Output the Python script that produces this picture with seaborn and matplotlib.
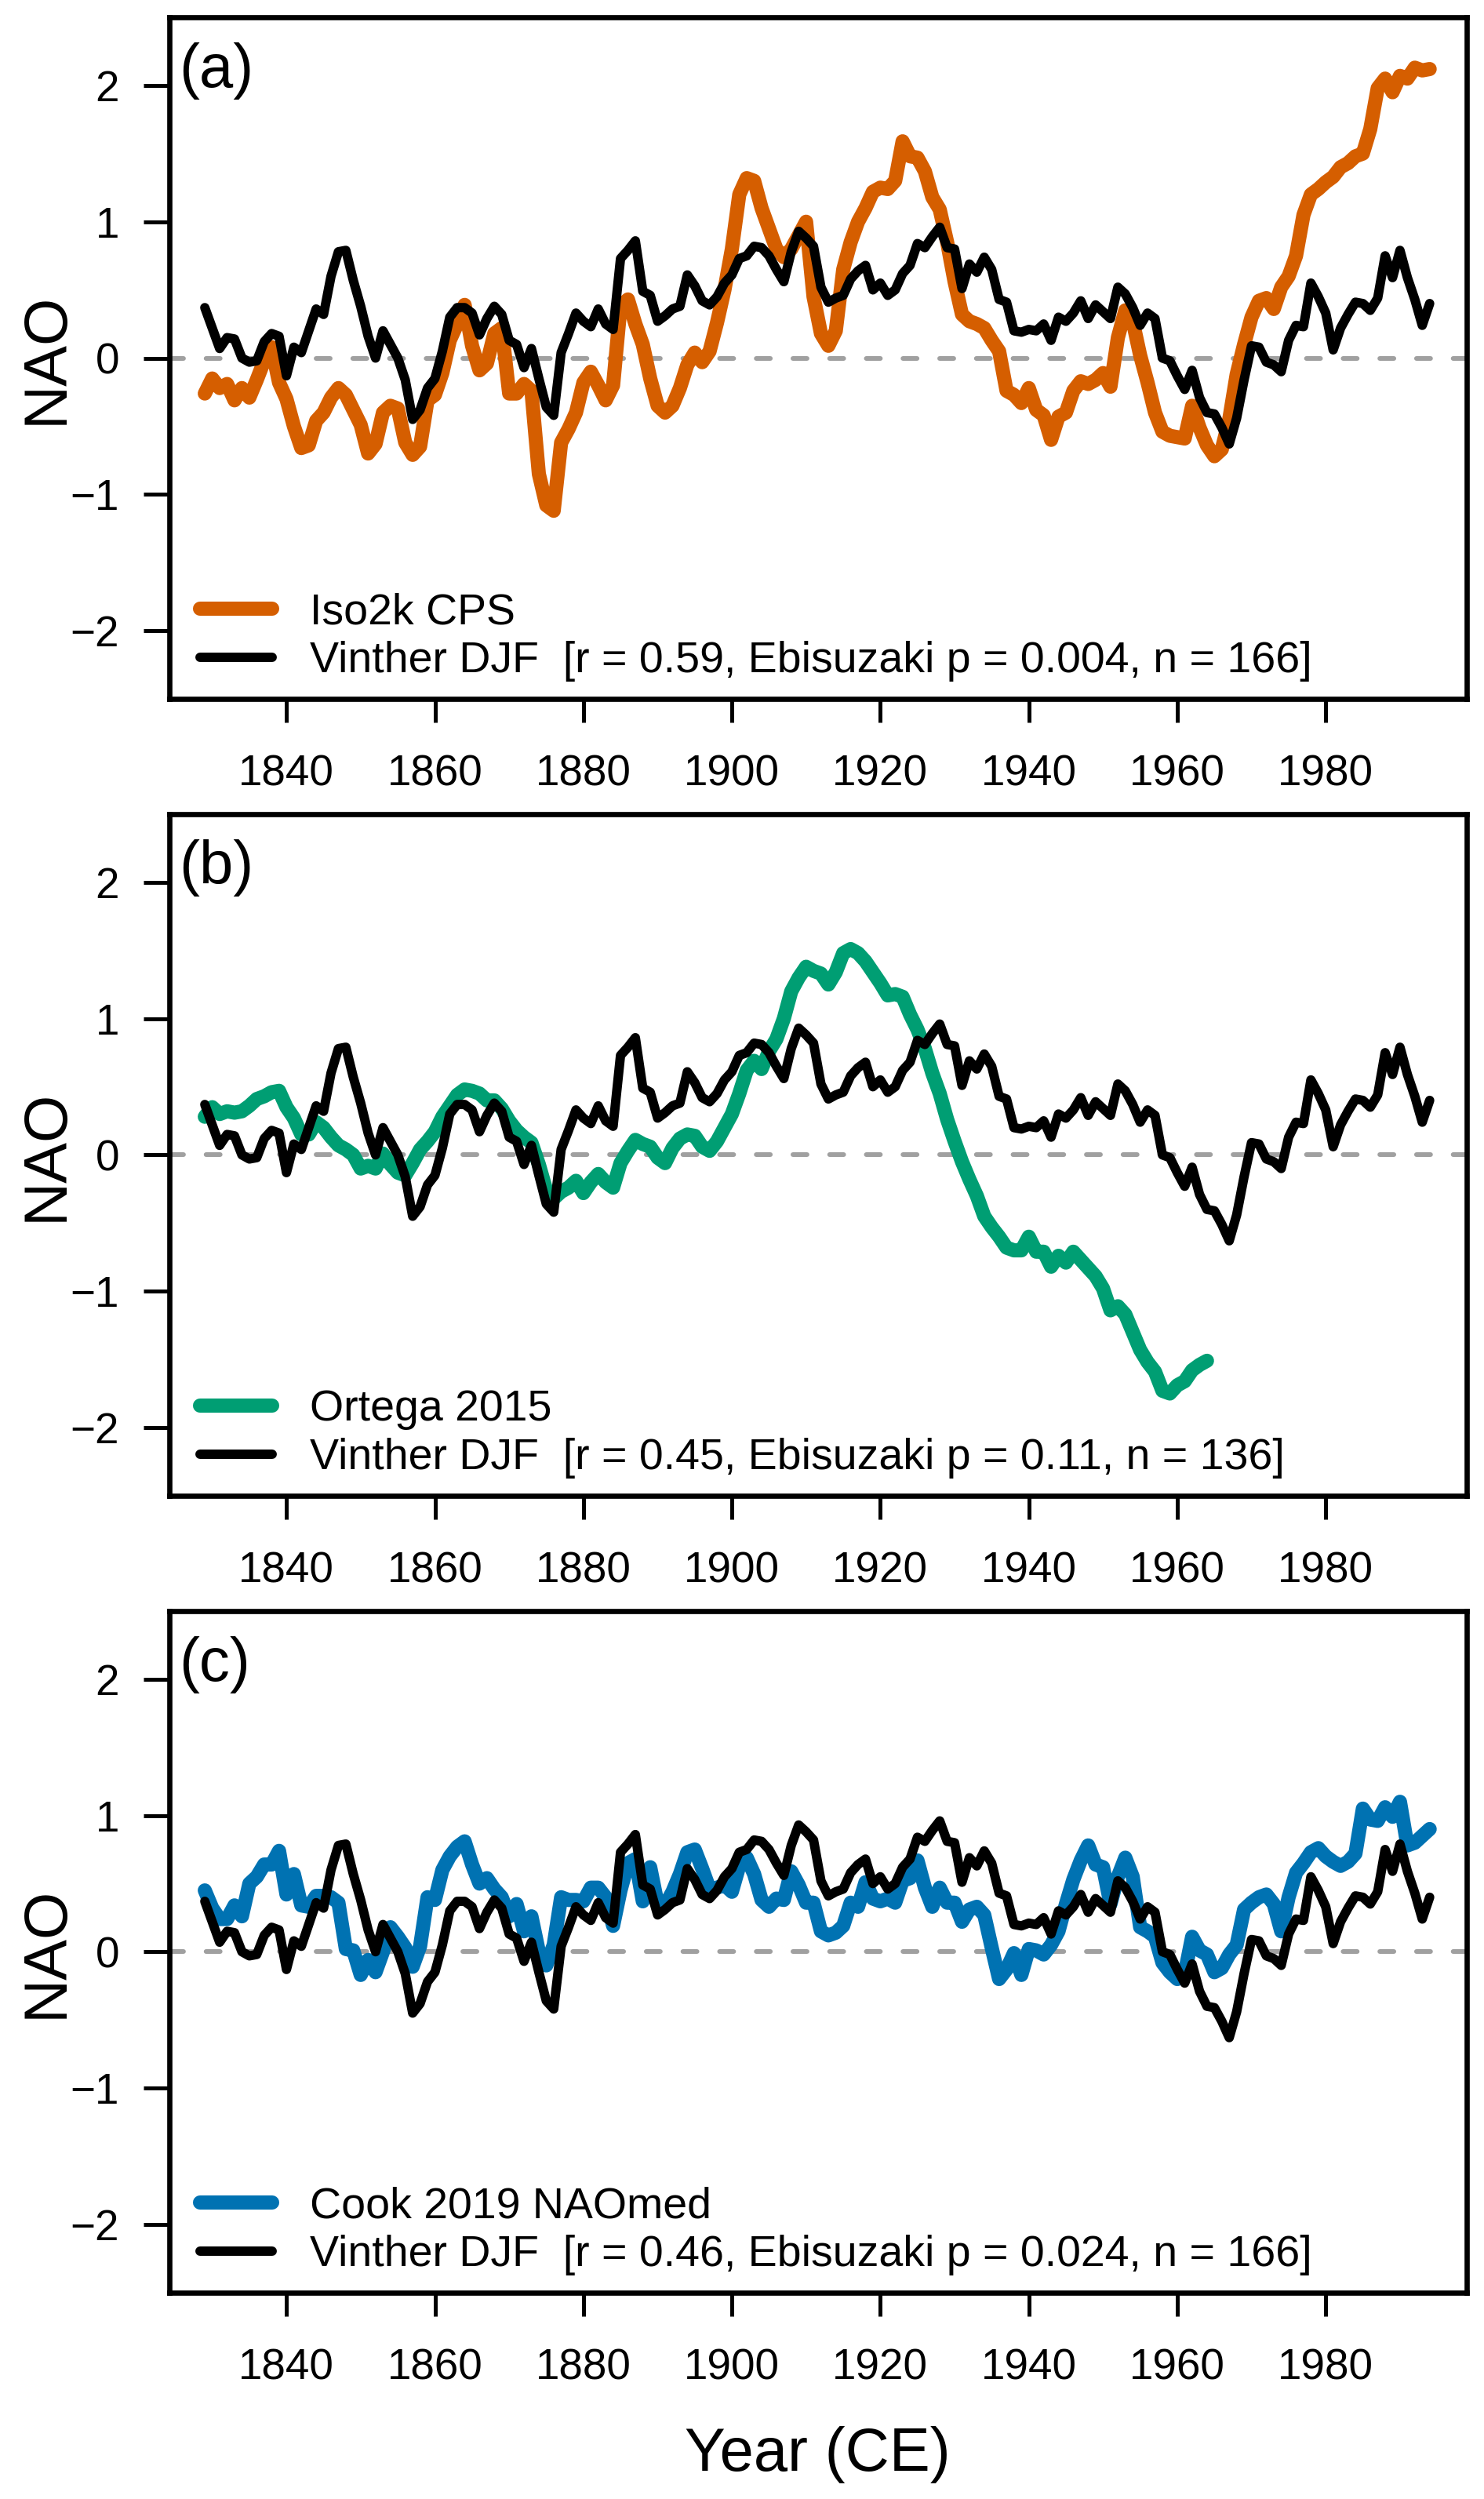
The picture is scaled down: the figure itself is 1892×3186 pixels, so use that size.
import numpy as np
import pandas as pd
import seaborn as sns
import matplotlib.pyplot as plt

# years 1829-1994, shared by all records
years = list(range(1829, 1995))

vinther = [
    0.37, 0.22, 0.07, 0.15, 0.14, 0.00, -0.03, -0.02, 0.12, 0.18,
    0.16, -0.13, 0.08, 0.04, 0.20, 0.36, 0.32, 0.60, 0.78, 0.79,
    0.57, 0.38, 0.16, 0.00, 0.20, 0.10, 0.00, -0.16, -0.45, -0.38,
    -0.22, -0.15, 0.05, 0.30, 0.37, 0.37, 0.33, 0.17, 0.29, 0.38,
    0.32, 0.13, 0.10, -0.07, 0.07, -0.15, -0.36, -0.42, 0.04, 0.18,
    0.33, 0.27, 0.23, 0.36, 0.25, 0.21, 0.73, 0.79, 0.86, 0.49,
    0.46, 0.27, 0.31, 0.36, 0.38, 0.61, 0.53, 0.42, 0.39, 0.45,
    0.55, 0.61, 0.73, 0.75, 0.82, 0.81, 0.75, 0.65, 0.56, 0.78,
    0.93, 0.88, 0.82, 0.52, 0.41, 0.44, 0.46, 0.58, 0.64, 0.68,
    0.50, 0.55, 0.46, 0.50, 0.62, 0.68, 0.84, 0.81, 0.89, 0.96,
    0.81, 0.80, 0.51, 0.69, 0.63, 0.74, 0.65, 0.43, 0.41, 0.20,
    0.19, 0.21, 0.20, 0.25, 0.13, 0.30, 0.27, 0.33, 0.42, 0.29,
    0.39, 0.34, 0.29, 0.52, 0.47, 0.37, 0.24, 0.33, 0.29, 0.00,
    -0.02, -0.13, -0.23, -0.09, -0.29, -0.40, -0.41, -0.51, -0.63, -0.44,
    -0.16, 0.09, 0.08, -0.03, -0.05, -0.10, 0.13, 0.24, 0.23, 0.55,
    0.45, 0.33, 0.06, 0.22, 0.32, 0.41, 0.40, 0.35, 0.44, 0.75,
    0.59, 0.79, 0.59, 0.43, 0.24, 0.40,
]

iso2k = [
    -0.26, -0.15, -0.22, -0.19, -0.31, -0.22, -0.29, -0.16, -0.02, 0.08,
    -0.18, -0.30, -0.50, -0.66, -0.64, -0.46, -0.40, -0.29, -0.22, -0.27,
    -0.38, -0.49, -0.70, -0.63, -0.40, -0.35, -0.37, -0.62, -0.71, -0.65,
    -0.31, -0.27, -0.11, 0.13, 0.25, 0.39, 0.09, -0.09, -0.04, 0.18,
    0.22, -0.26, -0.26, -0.19, -0.24, -0.85, -1.08, -1.12, -0.62, -0.52,
    -0.40, -0.18, -0.10, -0.20, -0.31, -0.20, 0.38, 0.43, 0.25, 0.10,
    -0.15, -0.35, -0.40, -0.35, -0.22, -0.05, 0.04, -0.03, 0.05, 0.26,
    0.50, 0.80, 1.20, 1.32, 1.30, 1.10, 0.95, 0.80, 0.74, 0.80,
    0.90, 1.00, 0.45, 0.18, 0.09, 0.20, 0.65, 0.85, 1.00, 1.10,
    1.22, 1.25, 1.24, 1.30, 1.59, 1.48, 1.47, 1.37, 1.18, 1.09,
    0.85, 0.56, 0.32, 0.27, 0.25, 0.22, 0.13, 0.05, -0.24, -0.27,
    -0.33, -0.22, -0.38, -0.42, -0.60, -0.43, -0.40, -0.24, -0.17, -0.19,
    -0.16, -0.11, -0.21, 0.15, 0.35, 0.27, 0.02, -0.18, -0.40, -0.54,
    -0.57, -0.58, -0.59, -0.35, -0.51, -0.64, -0.72, -0.67, -0.45, -0.12,
    0.10, 0.30, 0.42, 0.44, 0.36, 0.52, 0.60, 0.75, 1.05, 1.20,
    1.24, 1.29, 1.33, 1.40, 1.43, 1.48, 1.50, 1.68, 1.98, 2.05,
    1.95, 2.07, 2.05, 2.13, 2.11, 2.12,
]

# Ortega 2015 stops in 1964
ortega = [
    0.28, 0.35, 0.30, 0.32, 0.31, 0.32, 0.36, 0.41, 0.43, 0.46,
    0.47, 0.35, 0.27, 0.15, 0.15, 0.24, 0.20, 0.13, 0.07, 0.04,
    0.00, -0.10, -0.08, -0.10, 0.01, -0.07, -0.13, -0.15, -0.06, 0.04,
    0.10, 0.17, 0.28, 0.36, 0.44, 0.48, 0.47, 0.45, 0.40, 0.40,
    0.34, 0.25, 0.18, 0.13, 0.09, -0.07, -0.26, -0.32, -0.27, -0.24,
    -0.19, -0.28, -0.20, -0.14, -0.20, -0.24, -0.06, 0.03, 0.11, 0.08,
    0.06, -0.02, -0.06, 0.05, 0.12, 0.15, 0.14, 0.06, 0.03, 0.10,
    0.20, 0.30, 0.45, 0.62, 0.69, 0.63, 0.76, 0.85, 1.00, 1.20,
    1.30, 1.38, 1.35, 1.33, 1.25, 1.34, 1.48, 1.51, 1.48, 1.42,
    1.34, 1.26, 1.17, 1.18, 1.16, 1.03, 0.92, 0.78, 0.60, 0.45,
    0.26, 0.10, -0.05, -0.18, -0.30, -0.45, -0.53, -0.60, -0.68, -0.70,
    -0.70, -0.60, -0.71, -0.71, -0.82, -0.74, -0.79, -0.71, -0.77, -0.83,
    -0.89, -0.98, -1.14, -1.11, -1.17, -1.30, -1.43, -1.52, -1.59, -1.73,
    -1.75, -1.69, -1.66, -1.58, -1.54, -1.51,
]

cook = [
    0.45, 0.32, 0.24, 0.24, 0.34, 0.26, 0.50, 0.55, 0.64, 0.64,
    0.74, 0.42, 0.57, 0.34, 0.33, 0.41, 0.41, 0.40, 0.36, 0.02,
    0.01, -0.17, -0.06, -0.15, 0.00, 0.18, 0.11, 0.03, -0.11, 0.04,
    0.40, 0.38, 0.60, 0.70, 0.77, 0.81, 0.64, 0.50, 0.54, 0.46,
    0.40, 0.26, 0.35, 0.15, 0.26, 0.00, -0.10, 0.05, 0.40, 0.38,
    0.38, 0.37, 0.47, 0.47, 0.40, 0.19, 0.45, 0.65, 0.68, 0.37,
    0.62, 0.35, 0.34, 0.44, 0.57, 0.73, 0.75, 0.61, 0.46, 0.47,
    0.49, 0.44, 0.63, 0.69, 0.57, 0.38, 0.33, 0.39, 0.38, 0.59,
    0.49, 0.36, 0.36, 0.15, 0.12, 0.14, 0.19, 0.36, 0.33, 0.51,
    0.39, 0.37, 0.39, 0.36, 0.52, 0.54, 0.67, 0.47, 0.33, 0.47,
    0.36, 0.36, 0.22, 0.31, 0.33, 0.27, 0.03, -0.20, -0.13, -0.01,
    -0.17, 0.02, 0.01, -0.02, 0.05, 0.15, 0.35, 0.53, 0.67, 0.78,
    0.64, 0.62, 0.35, 0.55, 0.69, 0.55, 0.18, 0.15, 0.11, -0.08,
    -0.15, -0.20, -0.16, 0.11, 0.01, -0.02, -0.15, -0.12, -0.02, 0.05,
    0.31, 0.36, 0.40, 0.42, 0.35, 0.15, 0.40, 0.58, 0.65, 0.73,
    0.76, 0.70, 0.66, 0.63, 0.66, 0.72, 1.05, 0.97, 0.96, 1.06,
    0.99, 1.10, 0.78, 0.80, 0.85, 0.90,
]

panel_tags = ['(a)', '(b)', '(c)']
proxy_names = ['Iso2k CPS', 'Ortega 2015', 'Cook 2019 NAOmed']
proxy_colors = ['#D55E00', '#009E73', '#0072B2']
proxy_series = [iso2k, ortega, cook]
vinther_labels = [
    'Vinther DJF  [r = 0.59, Ebisuzaki p = 0.004, n = 166]',
    'Vinther DJF  [r = 0.45, Ebisuzaki p = 0.11, n = 136]',
    'Vinther DJF  [r = 0.46, Ebisuzaki p = 0.024, n = 166]',
]
xticks = [1840, 1860, 1880, 1900, 1920, 1940, 1960, 1980]
yticks = [-2, -1, 0, 1, 2]

sns.set_style('ticks')
plt.rcParams['font.family'] = ['Liberation Sans', 'DejaVu Sans']
plt.rcParams['text.color'] = 'black'
plt.rcParams['axes.labelcolor'] = 'black'
plt.rcParams['xtick.color'] = 'black'
plt.rcParams['ytick.color'] = 'black'
plt.rcParams['axes.edgecolor'] = 'black'
plt.rcParams['axes.linewidth'] = 4.8

fig, axes = plt.subplots(3, 1, figsize=(18.92, 31.86), dpi=100)
fig.subplots_adjust(left=0.1140, right=0.9884, top=0.9931, bottom=0.0826, hspace=0.169)

for i, ax in enumerate(axes):
    vals = proxy_series[i]
    df = pd.DataFrame({'year': years[:len(vals)], 'nao': vals})
    ref = pd.DataFrame({'year': years, 'nao': vinther})

    ax.axhline(0, color='#A0A0A0', lw=4.3, ls=(0, (3, 4.83)),
               dash_capstyle='round', zorder=1)
    sns.lineplot(data=df, x='year', y='nao', ax=ax, color=proxy_colors[i],
                 lw=13, solid_capstyle='round', solid_joinstyle='round',
                 label=proxy_names[i], zorder=2)
    sns.lineplot(data=ref, x='year', y='nao', ax=ax, color='black',
                 lw=8.6, solid_capstyle='round', solid_joinstyle='round',
                 label=vinther_labels[i], zorder=3)

    ax.set_xlim(1824.2, 1999.0)
    ax.set_ylim(-2.5, 2.5)
    ax.set_xticks(xticks)
    ax.set_yticks(yticks)
    ax.set_yticklabels(['\u22122', '\u22121', '0', '1', '2'])
    ax.tick_params(axis='both', labelsize=39.5, width=3.6, direction='out',
                   color='black', labelcolor='black', bottom=True, left=True)
    ax.tick_params(axis='x', length=21.6, pad=29.5)
    ax.tick_params(axis='y', length=23.8, pad=22)
    for sp in ax.spines.values():
        sp.set_visible(True)
        sp.set_color('black')
        sp.set_linewidth(4.8)

    ax.set_ylabel('NAO', fontsize=56, color='black')
    ax.yaxis.set_label_coords(-0.0723, 0.5)
    ax.set_xlabel('')

    ax.text(0.0075, 0.9631, panel_tags[i], transform=ax.transAxes,
            fontsize=56, ha='left', va='top', color='black')

    ax.legend(loc='lower left', bbox_to_anchor=(0.0238, 0.0248),
              borderaxespad=0, borderpad=0, frameon=False, fontsize=40,
              handlelength=1.66, handletextpad=0.85, labelspacing=0.18,
              labelcolor='black')

axes[-1].set_xlabel('Year (CE)', fontsize=56, color='black')
axes[-1].xaxis.set_label_coords(0.5, -0.1959)

fig.savefig('out.png', dpi=100)
